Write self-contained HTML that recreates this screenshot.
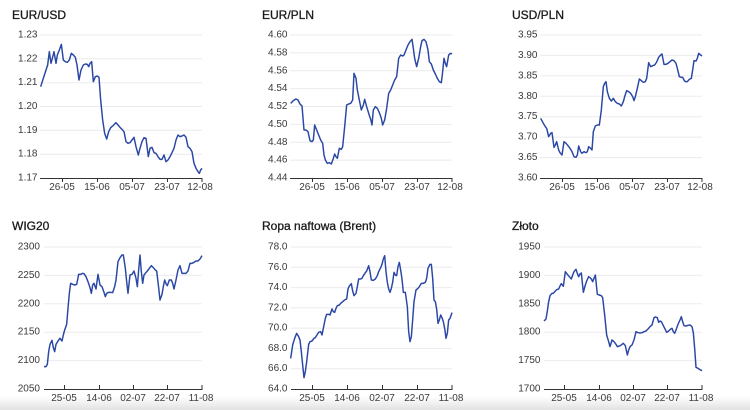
<!DOCTYPE html>
<html><head><meta charset="utf-8"><style>
html,body{margin:0;padding:0;background:#fff;}
body{width:750px;height:410px;overflow:hidden;position:relative;}
svg{position:absolute;left:0;top:0;}
.t{font-family:"Liberation Sans",sans-serif;font-size:12px;fill:#1a1a1a;stroke:#1a1a1a;stroke-width:0.3px;}
.yl{font-family:"Liberation Sans",sans-serif;font-size:10px;fill:#3a3a3a;text-anchor:end;dominant-baseline:central;}
.xl{font-family:"Liberation Sans",sans-serif;font-size:10px;fill:#3a3a3a;text-anchor:middle;}
.g{stroke:#ebebeb;stroke-width:1;}
.ax{stroke:#333;stroke-width:1;}
.ln{fill:none;stroke:#2b47a6;stroke-width:4.4;stroke-linejoin:round;}
#fade{position:absolute;left:0;top:396px;width:750px;height:14px;background:linear-gradient(#ffffff,#e2e2e2);}
</style></head><body>
<div id="fade"></div>
<svg width="750" height="410" viewBox="0 0 750 410">
<!-- EUR/USD -->
<text class="t" x="12" y="19">EUR/USD</text>
<g class="g">
<line x1="40" x2="202" y1="35" y2="35"/><line x1="40" x2="202" y1="58.8" y2="58.8"/><line x1="40" x2="202" y1="82.7" y2="82.7"/><line x1="40" x2="202" y1="106.5" y2="106.5"/><line x1="40" x2="202" y1="130.3" y2="130.3"/><line x1="40" x2="202" y1="154.2" y2="154.2"/>
</g>
<g>
<text class="yl" x="37.5" y="35">1.23</text><text class="yl" x="37.5" y="58.8">1.22</text><text class="yl" x="37.5" y="82.7">1.21</text><text class="yl" x="37.5" y="106.5">1.20</text><text class="yl" x="37.5" y="130.3">1.19</text><text class="yl" x="37.5" y="154.2">1.18</text><text class="yl" x="37.5" y="178">1.17</text>
</g>
<g class="ax"><line x1="40" x2="202.5" y1="178.5" y2="178.5"/><line x1="62.5" x2="62.5" y1="178" y2="182"/><line x1="97.5" x2="97.5" y1="178" y2="182"/><line x1="132.5" x2="132.5" y1="178" y2="182"/><line x1="167.5" x2="167.5" y1="178" y2="182"/><line x1="202" x2="202" y1="178" y2="182"/></g>
<text class="xl" x="62" y="190">26-05</text><text class="xl" x="97" y="190">15-06</text><text class="xl" x="132" y="190">05-07</text><text class="xl" x="167" y="190">23-07</text><text class="xl" x="200" y="190">12-08</text>
<g transform="translate(0,0) scale(0.33333)"><polyline class="ln" points="122,260 130,235 138,210 143,195 148,155 153,190 157,175 162,155 168,190 172,165 178,150 184,133 190,180 196,185 202,187 208,180 214,160 220,165 226,172 231,195 237,240 243,210 250,195 256,192 262,193 266,200 270,190 275,185 280,245 286,230 292,228 297,232 302,300 308,360 314,400 320,417 326,395 332,383 338,378 344,372 348,368 354,375 360,382 366,388 372,395 378,425 384,430 390,428 396,420 402,412 408,440 415,465 420,445 426,425 432,413 438,415 445,470 450,445 456,442 462,458 468,460 474,470 480,478 486,478 492,465 498,485 504,480 510,470 516,458 522,445 528,420 534,405 540,410 546,408 552,405 558,412 564,440 570,445 576,455 582,490 588,505 594,515 598,520 602,510 606,505"/></g>

<!-- EUR/PLN -->
<text class="t" x="262" y="19">EUR/PLN</text>
<g class="g">
<line x1="290" x2="452" y1="35" y2="35"/><line x1="290" x2="452" y1="52.9" y2="52.9"/><line x1="290" x2="452" y1="70.75" y2="70.75"/><line x1="290" x2="452" y1="88.6" y2="88.6"/><line x1="290" x2="452" y1="106.5" y2="106.5"/><line x1="290" x2="452" y1="124.4" y2="124.4"/><line x1="290" x2="452" y1="142.25" y2="142.25"/><line x1="290" x2="452" y1="160.1" y2="160.1"/>
</g>
<g>
<text class="yl" x="287.5" y="35">4.60</text><text class="yl" x="287.5" y="52.9">4.58</text><text class="yl" x="287.5" y="70.75">4.56</text><text class="yl" x="287.5" y="88.6">4.54</text><text class="yl" x="287.5" y="106.5">4.52</text><text class="yl" x="287.5" y="124.4">4.50</text><text class="yl" x="287.5" y="142.25">4.48</text><text class="yl" x="287.5" y="160.1">4.46</text><text class="yl" x="287.5" y="178">4.44</text>
</g>
<g class="ax"><line x1="290" x2="452.5" y1="178.5" y2="178.5"/><line x1="312.5" x2="312.5" y1="178" y2="182"/><line x1="347.5" x2="347.5" y1="178" y2="182"/><line x1="382.5" x2="382.5" y1="178" y2="182"/><line x1="417.5" x2="417.5" y1="178" y2="182"/><line x1="452" x2="452" y1="178" y2="182"/></g>
<text class="xl" x="312" y="190">26-05</text><text class="xl" x="347" y="190">15-06</text><text class="xl" x="382" y="190">05-07</text><text class="xl" x="417" y="190">23-07</text><text class="xl" x="450" y="190">12-08</text>
<g transform="translate(250,0) scale(0.33333)"><polyline class="ln" points="122,310 130,302 138,297 144,300 150,312 156,318 162,390 168,390 174,395 180,422 186,425 190,420 194,375 200,390 206,405 212,420 218,430 222,465 226,480 232,490 238,488 244,492 250,475 254,462 258,470 262,475 268,445 274,448 278,440 284,380 290,315 296,312 302,310 308,300 312,220 318,235 322,270 328,300 334,330 340,315 344,298 350,320 356,340 362,358 366,375 370,330 376,320 382,325 388,338 394,355 398,375 404,360 410,325 416,280 422,270 428,255 434,240 440,230 446,175 452,165 458,168 462,165 468,150 474,135 480,125 486,118 490,145 494,175 500,200 506,175 512,140 516,122 522,118 528,125 534,150 538,185 544,192 550,210 556,222 562,235 568,245 574,248 578,215 582,175 586,190 590,200 596,165 602,160 606,162"/></g>

<!-- USD/PLN -->
<text class="t" x="512" y="19">USD/PLN</text>
<g class="g">
<line x1="540" x2="702" y1="35" y2="35"/><line x1="540" x2="702" y1="55.4" y2="55.4"/><line x1="540" x2="702" y1="75.9" y2="75.9"/><line x1="540" x2="702" y1="96.3" y2="96.3"/><line x1="540" x2="702" y1="116.7" y2="116.7"/><line x1="540" x2="702" y1="137.1" y2="137.1"/><line x1="540" x2="702" y1="157.6" y2="157.6"/>
</g>
<g>
<text class="yl" x="537.5" y="35">3.95</text><text class="yl" x="537.5" y="55.4">3.90</text><text class="yl" x="537.5" y="75.9">3.85</text><text class="yl" x="537.5" y="96.3">3.80</text><text class="yl" x="537.5" y="116.7">3.75</text><text class="yl" x="537.5" y="137.1">3.70</text><text class="yl" x="537.5" y="157.6">3.65</text><text class="yl" x="537.5" y="178">3.60</text>
</g>
<g class="ax"><line x1="540" x2="702.5" y1="178.5" y2="178.5"/><line x1="562.5" x2="562.5" y1="178" y2="182"/><line x1="597.5" x2="597.5" y1="178" y2="182"/><line x1="632.5" x2="632.5" y1="178" y2="182"/><line x1="667.5" x2="667.5" y1="178" y2="182"/><line x1="702" x2="702" y1="178" y2="182"/></g>
<text class="xl" x="562" y="190">26-05</text><text class="xl" x="597" y="190">15-06</text><text class="xl" x="632" y="190">05-07</text><text class="xl" x="667" y="190">23-07</text><text class="xl" x="700" y="190">12-08</text>
<g transform="translate(500,0) scale(0.33333)"><polyline class="ln" points="122,355 130,370 136,380 140,385 146,410 152,400 156,398 162,442 166,435 170,425 176,450 180,458 186,465 192,425 198,430 204,437 210,445 216,455 222,470 228,472 232,465 236,438 242,455 246,460 252,455 258,458 262,455 266,440 272,445 276,450 280,395 286,378 292,375 298,375 304,330 310,260 314,250 318,245 322,275 328,295 334,303 340,295 346,305 352,310 358,312 364,318 370,305 374,290 380,272 386,275 392,280 398,290 402,302 406,290 412,265 418,237 424,242 430,247 436,245 440,235 446,188 452,200 458,197 464,195 470,186 476,172 482,165 486,162 492,193 498,193 504,190 510,185 516,180 522,182 528,190 532,205 538,230 544,232 548,232 552,240 556,245 562,245 568,238 574,235 578,210 582,182 588,183 592,175 596,160 602,165 606,168"/></g>

<!-- WIG20 -->
<text class="t" x="12" y="230">WIG20</text>
<g class="g">
<line x1="44" x2="202" y1="247" y2="247"/><line x1="44" x2="202" y1="275.4" y2="275.4"/><line x1="44" x2="202" y1="303.8" y2="303.8"/><line x1="44" x2="202" y1="332.2" y2="332.2"/><line x1="44" x2="202" y1="360.6" y2="360.6"/>
</g>
<g>
<text class="yl" x="40" y="247">2300</text><text class="yl" x="40" y="275.4">2250</text><text class="yl" x="40" y="303.8">2200</text><text class="yl" x="40" y="332.2">2150</text><text class="yl" x="40" y="360.6">2100</text><text class="yl" x="40" y="389">2050</text>
</g>
<g class="ax"><line x1="44" x2="202.5" y1="389.5" y2="389.5"/><line x1="64.5" x2="64.5" y1="385" y2="389"/><line x1="99.5" x2="99.5" y1="385" y2="389"/><line x1="133.5" x2="133.5" y1="385" y2="389"/><line x1="167.5" x2="167.5" y1="385" y2="389"/><line x1="202" x2="202" y1="385" y2="389"/></g>
<text class="xl" x="64" y="401">25-05</text><text class="xl" x="99" y="401">14-06</text><text class="xl" x="133" y="401">02-07</text><text class="xl" x="167" y="401">22-07</text><text class="xl" x="201" y="401">11-08</text>
<g transform="translate(0,205) scale(0.33333)"><polyline class="ln" points="132,485 138,485 142,478 146,440 150,418 156,406 160,428 164,440 168,418 174,408 180,400 186,408 190,390 194,375 200,358 204,310 208,265 212,235 218,238 224,240 230,238 236,208 242,208 248,205 252,206 258,215 264,230 270,248 274,265 278,240 282,235 288,252 294,208 300,240 306,245 312,262 316,275 320,265 326,262 332,262 338,263 344,245 348,225 354,170 360,158 366,150 370,150 376,190 380,230 384,265 390,210 396,208 402,198 408,220 412,245 416,195 420,150 424,200 428,235 432,210 436,205 442,198 448,190 454,182 460,188 466,195 470,198 476,248 480,285 486,268 490,245 494,225 498,236 502,242 508,225 514,225 518,235 522,252 528,225 534,195 540,182 546,205 552,205 558,205 564,198 570,175 576,175 582,172 588,168 594,168 600,162 606,152"/></g>

<!-- Brent -->
<text class="t" x="262" y="230">Ropa naftowa (Brent)</text>
<g class="g">
<line x1="291" x2="452" y1="247" y2="247"/><line x1="291" x2="452" y1="267.3" y2="267.3"/><line x1="291" x2="452" y1="287.6" y2="287.6"/><line x1="291" x2="452" y1="307.9" y2="307.9"/><line x1="291" x2="452" y1="328.1" y2="328.1"/><line x1="291" x2="452" y1="348.4" y2="348.4"/><line x1="291" x2="452" y1="368.7" y2="368.7"/>
</g>
<g>
<text class="yl" x="287.5" y="247">78.0</text><text class="yl" x="287.5" y="267.3">76.0</text><text class="yl" x="287.5" y="287.6">74.0</text><text class="yl" x="287.5" y="307.9">72.0</text><text class="yl" x="287.5" y="328.1">70.0</text><text class="yl" x="287.5" y="348.4">68.0</text><text class="yl" x="287.5" y="368.7">66.0</text><text class="yl" x="287.5" y="389">64.0</text>
</g>
<g class="ax"><line x1="291" x2="452.5" y1="389.5" y2="389.5"/><line x1="312.5" x2="312.5" y1="385" y2="389"/><line x1="347.5" x2="347.5" y1="385" y2="389"/><line x1="382.5" x2="382.5" y1="385" y2="389"/><line x1="417.5" x2="417.5" y1="385" y2="389"/><line x1="452" x2="452" y1="385" y2="389"/></g>
<text class="xl" x="312" y="401">25-05</text><text class="xl" x="347" y="401">14-06</text><text class="xl" x="382" y="401">02-07</text><text class="xl" x="417" y="401">22-07</text><text class="xl" x="451" y="401">11-08</text>
<g transform="translate(250,205) scale(0.33333)"><polyline class="ln" points="122,460 128,420 134,400 140,385 146,395 150,405 154,440 158,480 162,518 166,500 170,470 176,418 180,410 186,408 192,400 196,398 202,388 206,382 212,380 216,390 222,360 226,340 230,328 236,328 240,330 246,312 250,320 254,322 258,310 262,302 268,300 272,295 278,290 284,285 290,282 294,252 298,243 304,236 308,258 312,272 318,265 322,245 326,222 332,222 336,220 340,212 346,203 350,198 356,182 360,200 364,225 370,226 376,222 382,212 386,200 392,188 396,178 400,162 404,152 408,200 412,232 416,252 420,262 424,250 428,232 432,202 436,210 440,212 444,185 448,172 452,195 456,222 460,262 466,262 472,305 476,380 480,410 484,395 488,345 492,290 498,255 504,250 508,245 514,235 520,235 526,232 530,220 534,190 540,178 544,178 548,220 552,285 556,290 560,312 564,355 568,345 572,330 576,338 580,350 584,370 588,400 592,385 596,345 600,340 606,323"/></g>

<!-- Złoto -->
<text class="t" x="512" y="230">Złoto</text>
<g class="g">
<line x1="544" x2="702" y1="247" y2="247"/><line x1="544" x2="702" y1="275.4" y2="275.4"/><line x1="544" x2="702" y1="303.8" y2="303.8"/><line x1="544" x2="702" y1="332.2" y2="332.2"/><line x1="544" x2="702" y1="360.6" y2="360.6"/>
</g>
<g>
<text class="yl" x="540.5" y="247">1950</text><text class="yl" x="540.5" y="275.4">1900</text><text class="yl" x="540.5" y="303.8">1850</text><text class="yl" x="540.5" y="332.2">1800</text><text class="yl" x="540.5" y="360.6">1750</text><text class="yl" x="540.5" y="389">1700</text>
</g>
<g class="ax"><line x1="544" x2="702.5" y1="389.5" y2="389.5"/><line x1="564.5" x2="564.5" y1="385" y2="389"/><line x1="599.5" x2="599.5" y1="385" y2="389"/><line x1="633.5" x2="633.5" y1="385" y2="389"/><line x1="667.5" x2="667.5" y1="385" y2="389"/><line x1="702" x2="702" y1="385" y2="389"/></g>
<text class="xl" x="564" y="401">25-05</text><text class="xl" x="599" y="401">14-06</text><text class="xl" x="633" y="401">02-07</text><text class="xl" x="667" y="401">22-07</text><text class="xl" x="701" y="401">11-08</text>
<g transform="translate(500,205) scale(0.33333)"><polyline class="ln" points="132,348 138,342 142,318 146,290 150,272 156,265 160,265 166,258 170,254 176,252 180,243 184,236 190,244 196,200 202,208 208,215 214,222 218,210 222,200 228,193 232,205 236,215 240,207 244,204 250,262 256,240 260,228 266,215 270,218 274,222 278,230 282,220 286,210 292,268 298,270 304,272 308,278 314,330 320,390 326,410 330,425 336,405 342,410 348,418 352,425 358,423 364,420 370,415 376,422 382,450 386,435 390,425 396,420 402,405 408,380 414,383 420,384 426,383 432,380 438,378 444,372 450,365 456,360 462,338 466,336 472,338 476,352 480,348 484,350 488,358 494,370 500,382 506,378 512,372 516,370 520,380 524,385 528,375 534,358 540,345 544,335 548,350 552,362 558,363 564,361 570,360 576,365 580,383 584,430 588,487 594,490 600,494 606,497"/></g>
</svg>
</body></html>
